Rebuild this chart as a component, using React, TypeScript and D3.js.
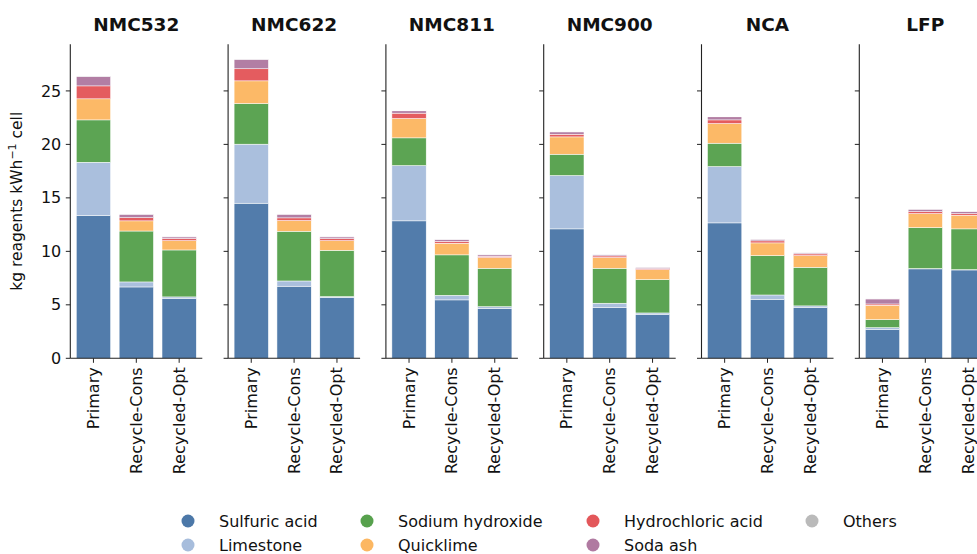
import React from "react";
import * as d3 from "d3";

const chemistries = ["NMC532", "NMC622", "NMC811", "NMC900", "NCA", "LFP"];
const scenarios = ["Primary", "Recycle-Cons", "Recycled-Opt"];
const seriesNames = ["Sulfuric acid", "Limestone", "Sodium hydroxide", "Quicklime", "Hydrochloric acid", "Soda ash", "Others"];
const seriesColors = ["#4c78a8", "#a7bddc", "#57a14d", "#fcb762", "#e3575a", "#b07aa1", "#bababa"];

// values per chemistry, in order Primary, Recycle-Cons, Recycled-Opt
const sulfuricAcid = [13.35, 6.67, 5.61, 14.5, 6.74, 5.68, 12.85, 5.46, 4.65, 12.1, 4.74, 4.12, 12.66, 5.52, 4.77, 2.68, 8.36, 8.26];
const limestone = [4.98, 0.47, 0.13, 5.52, 0.49, 0.09, 5.17, 0.43, 0.18, 4.99, 0.41, 0.12, 5.27, 0.4, 0.13, 0.19, 0.03, 0.03];
const sodiumHydroxide = [3.96, 4.76, 4.39, 3.8, 4.65, 4.33, 2.59, 3.78, 3.59, 1.99, 3.27, 3.12, 2.18, 3.68, 3.61, 0.75, 3.83, 3.81];
const quicklime = [1.97, 0.95, 0.87, 2.12, 1.0, 0.9, 1.81, 1.09, 1.0, 1.62, 1.0, 0.93, 1.84, 1.19, 1.09, 1.34, 1.31, 1.28];
const hydrochloricAcid = [1.21, 0.3, 0.2, 1.13, 0.25, 0.19, 0.5, 0.18, 0.12, 0.25, 0.15, 0.1, 0.34, 0.19, 0.16, 0.12, 0.19, 0.15];
const sodaAsh = [0.88, 0.32, 0.15, 0.87, 0.34, 0.16, 0.22, 0.16, 0.13, 0.22, 0.1, 0.12, 0.29, 0.15, 0.09, 0.47, 0.22, 0.19];
const others = [0.02, 0.01, 0.01, 0.02, 0.01, 0.01, 0.02, 0.01, 0.01, 0.02, 0.01, 0.01, 0.02, 0.01, 0.01, 0.02, 0.01, 0.01];
const yTicks = [0, 5, 10, 15, 20, 25];

const allSeries = [sulfuricAcid, limestone, sodiumHydroxide, quicklime, hydrochloricAcid, sodaAsh, others];

const W = 977;
const H = 554;
const panelLeft0 = 70.3;
const panelStep = 157.8;
const panelW = 132;
const plotTop = 44.3;
const plotBottom = 358.3;
const font = "DejaVu Sans, sans-serif";

export default function App() {
  const totals = sulfuricAcid.map((_, i) => d3.sum(allSeries, (s) => s[i]));
  const yMax = (d3.max(totals) as number) * 1.05;
  const y = d3.scaleLinear().domain([0, yMax]).range([plotBottom, plotTop]);
  const xIdx = d3.scaleLinear().domain([-0.54, 2.54]).range([0, panelW]);
  const barW = xIdx(0.8) - xIdx(0);

  const legendCols = [188, 367, 593, 812];
  const legendRows = [521, 545];

  return (
    <svg width={W} height={H} style={{ position: "absolute", left: 0, top: 0, background: "#fff" }} fontFamily={font}>
      <rect x={0} y={0} width={W} height={H} fill="#fff" />
      {chemistries.map((chem, ci) => {
        const x0 = panelLeft0 + ci * panelStep;
        return (
          <g key={chem} transform={`translate(${x0},0)`}>
            <text x={panelW / 2} y={31} textAnchor="middle" fontSize={18.5} fontWeight="bold" fill="#111">
              {chem}
            </text>
            {scenarios.map((sc, si) => {
              const idx = ci * 3 + si;
              let cum = 0;
              const cx = xIdx(si);
              return (
                <g key={sc}>
                  {allSeries.map((s, k) => {
                    const v = s[idx];
                    const y0 = cum;
                    cum += v;
                    return (
                      <rect
                        key={k}
                        x={cx - barW / 2}
                        y={y(cum)}
                        width={barW}
                        height={Math.max(0, y(y0) - y(cum))}
                        fill={seriesColors[k]}
                        stroke="#fff"
                        strokeWidth={0.5}
                        fillOpacity={0.97}
                      />
                    );
                  })}
                  <text
                    transform={`translate(${cx + 5.5},${plotBottom + 9}) rotate(-90)`}
                    textAnchor="end"
                    fontSize={16}
                    fill="#111"
                  >
                    {sc}
                  </text>
                  <line x1={cx} x2={cx} y1={plotBottom} y2={plotBottom + 4.5} stroke="#222" strokeWidth={1} />
                </g>
              );
            })}
            {yTicks.map((t) => (
              <g key={t}>
                <line x1={-4.5} x2={0} y1={y(t)} y2={y(t)} stroke="#222" strokeWidth={1} />
                {ci === 0 && (
                  <text x={-9} y={y(t)} dy="0.35em" textAnchor="end" fontSize={16} fill="#111">
                    {t}
                  </text>
                )}
              </g>
            ))}
            <line x1={0} x2={0} y1={plotTop} y2={plotBottom} stroke="#222" strokeWidth={1.1} />
            <line x1={0} x2={panelW} y1={plotBottom} y2={plotBottom} stroke="#222" strokeWidth={1.1} />
          </g>
        );
      })}
      <text
        transform={`translate(22,${(plotTop + plotBottom) / 2}) rotate(-90)`}
        textAnchor="middle"
        fontSize={15.5}
        fill="#111"
      >
        kg reagents kWh<tspan dy={-6} fontSize={11}>−1</tspan><tspan dy={6}> cell</tspan>
      </text>
      {seriesNames.map((name, k) => {
        const col = Math.floor(k / 2);
        const row = k % 2;
        const lx = legendCols[col];
        const ly = legendRows[row];
        return (
          <g key={name}>
            <circle cx={lx} cy={ly} r={6.5} fill={seriesColors[k]} />
            <text x={lx + 31} y={ly} dy="0.35em" fontSize={16} fill="#111">
              {name}
            </text>
          </g>
        );
      })}
    </svg>
  );
}
